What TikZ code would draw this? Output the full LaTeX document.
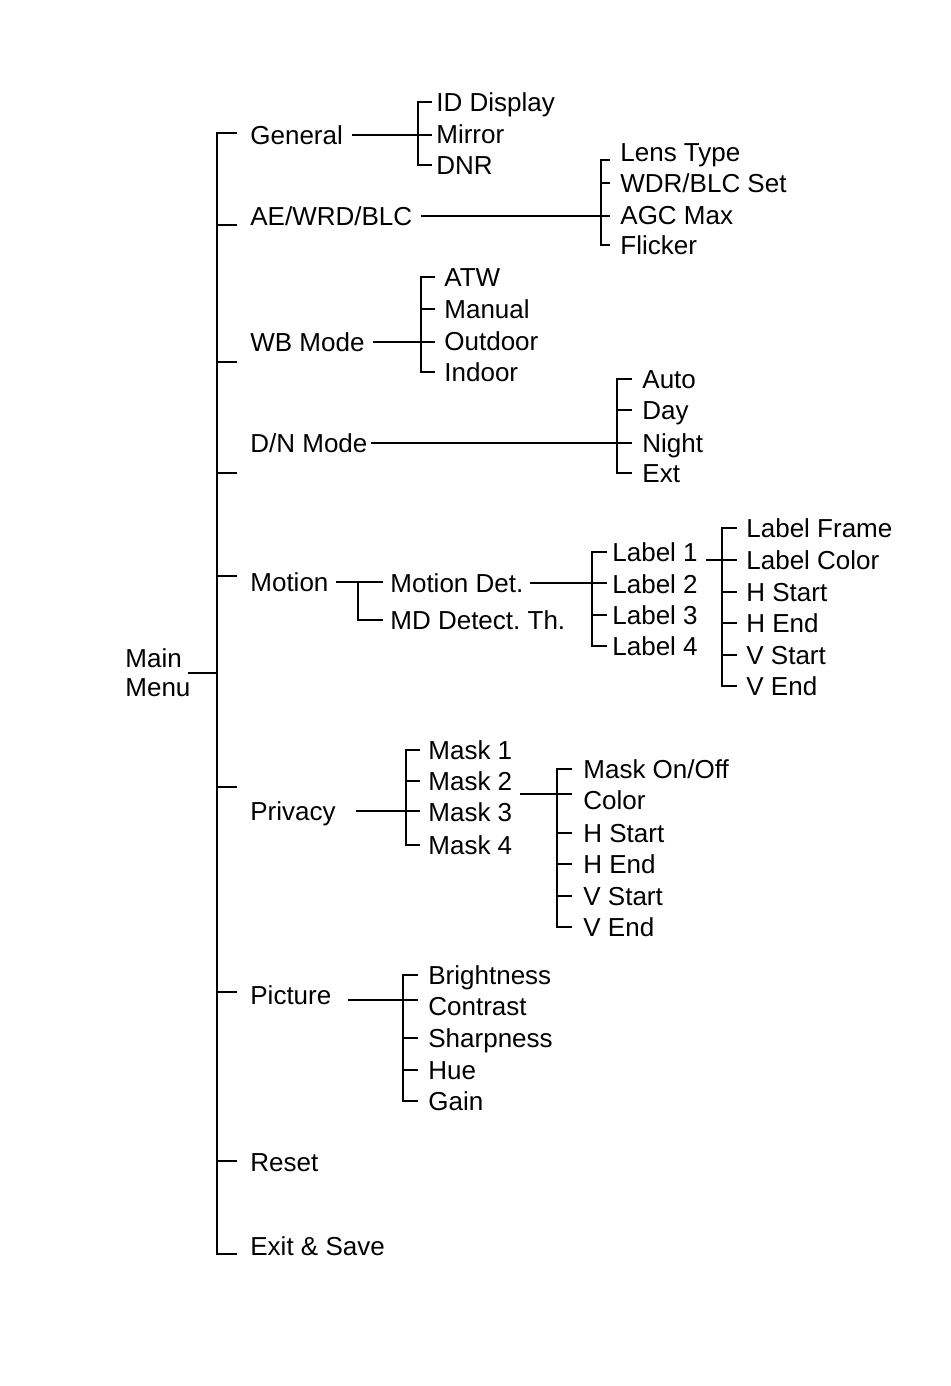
\documentclass[tikz,border=0pt]{standalone}
\usepackage{fontspec}
\setmainfont{Liberation Sans}
\usetikzlibrary{calc}
\frenchspacing

\begin{document}
\begin{tikzpicture}[
    x=0.5pt, y=-0.5pt,
    item/.style={anchor=west, inner sep=0pt, text height=9.3pt, text depth=0pt, font=\fontsize{13}{14.5}\selectfont},
    menu/.style={anchor=west, inner sep=0pt, align=left, font=\fontsize{13}{14.5}\selectfont},
    ln/.style={line width=1pt},
    thinln/.style={line width=0.7pt}
]
    \useasboundingbox (0,0) rectangle (950,1386);

    \node[menu] (mm) at (125,673) {Main\\Menu};
    \node[item] (gen) at (250,135) {General};
    \node[item] (ae) at (250,216) {AE/WRD/BLC};
    \node[item] (wb) at (250,342) {WB Mode};
    \node[item] (dn) at (250,443) {D/N Mode};
    \node[item] (mot) at (250,582) {Motion};
    \node[item] (priv) at (250,811) {Privacy};
    \node[item] (pic) at (250,995) {Picture};
    \node[item] (rst) at (250,1162) {Reset};
    \node[item] (ext) at (250,1246) {Exit \& Save};

    \coordinate (sptop) at (217,133);
    \coordinate (spbot) at (217,1254);
    \draw[ln] (237,133) -| (spbot) -- ++(20,0);
    \foreach \y in {225,362,473,576,787,992,1161}
        \draw[ln] (217,\y) -- ++(20,0);
    \draw[ln] ([xshift=-1.5pt]mm.east) -- (mm.east -| sptop);

    \node[item] (idd) at (436,102) {ID Display};
    \node[item] (mir) at (436,134) {Mirror};
    \node[item] (dnr) at (436,165) {DNR};
    \coordinate (gb) at (418,0);
    \draw[ln] ([xshift=-2pt]idd.west) -| (gb |- dnr.west) -- ([xshift=-2pt]dnr.west);
    \draw[ln, shorten >=2pt] ([xshift=4.5pt]gen.east) -- (gen.east -| mir.west);

    \node[item] (lens) at (620,152) {Lens Type};
    \node[item] (wdr) at (620,183) {WDR/BLC Set};
    \node[item] (agc) at (620,215) {AGC Max};
    \node[item] (flk) at (620,245) {Flicker};
    \coordinate (ab) at (601,0);
    \draw[ln] ([xshift=-5pt,yshift=-4pt]lens.west) -| (ab |- flk.west) -- ([xshift=-5pt]flk.west);
    \draw[ln, shorten >=5pt] (ab |- wdr.west) -- (wdr.west);
    \draw[thinln, shorten >=5pt] ([xshift=4pt]ae.east) -- (ae.east -| agc.west);

    \node[item] (atw) at (444,277) {ATW};
    \node[item] (man) at (444,309) {Manual};
    \node[item] (out) at (444,341) {Outdoor};
    \node[item] (ind) at (444,372) {Indoor};
    \coordinate (wbb) at (421,0);
    \draw[ln] ([xshift=-4.5pt]atw.west) -| (wbb |- ind.west) -- ([xshift=-4.5pt]ind.west);
    \draw[ln, shorten >=4.5pt] (wbb |- man.west) -- (man.west);
    \draw[ln, shorten >=4.5pt] ([xshift=4pt]wb.east) -- (wb.east -| out.west);

    \node[item] (auto) at (642,379) {Auto};
    \node[item] (day) at (642,410) {Day};
    \node[item] (night) at (642,443) {Night};
    \node[item] (extd) at (642,473) {Ext};
    \coordinate (db) at (617,0);
    \draw[ln] ([xshift=-5pt]auto.west) -| (db |- extd.west) -- ([xshift=-5pt]extd.west);
    \draw[ln, shorten >=5pt] (db |- day.west) -- (day.west);
    \draw[ln, shorten >=5pt] ([xshift=1.5pt]dn.east) -- (dn.east -| night.west);

    \node[item] (mdet) at (390,583) {Motion Det.};
    \node[item] (mdth) at (390,620) {MD Detect. Th.};
    \coordinate (mj) at (358,0);
    \draw[ln, shorten >=3.5pt] ([xshift=3.5pt]mot.east) -- (mot.east -| mdet.west);
    \draw[ln, shorten >=3.5pt] (mj |- mot.east) |- (mdth.west);

    \node[item] (lb1) at (612,552) {Label 1};
    \node[item] (lb2) at (612,584) {Label 2};
    \node[item] (lb3) at (612,615) {Label 3};
    \node[item] (lb4) at (612,646) {Label 4};
    \coordinate (lbb) at (592,0);
    \draw[ln] ([xshift=-2.5pt]lb1.west) -| (lbb |- lb4.west) -- ([xshift=-2.5pt]lb4.west);
    \draw[ln, shorten >=2.5pt] (lbb |- lb3.west) -- (lb3.west);
    \draw[ln, shorten >=2.5pt] ([xshift=3pt]mdet.east) -- (mdet.east -| lb2.west);

    \node[item] (lf) at (746,528) {Label Frame};
    \node[item] (lc) at (746,560) {Label Color};
    \node[item] (lhs) at (746,592) {H Start};
    \node[item] (lhe) at (746,623) {H End};
    \node[item] (lvs) at (746,655) {V Start};
    \node[item] (lve) at (746,686) {V End};
    \coordinate (lsb) at (722,0);
    \draw[ln] ([xshift=-4.5pt]lf.west) -| (lsb |- lve.west) -- ([xshift=-4.5pt]lve.west);
    \foreach \n in {lhs,lhe,lvs}
        \draw[ln, shorten >=4.5pt] (lsb |- \n.west) -- (\n.west);
    \coordinate (l1e) at ([xshift=4pt]lb1.east);
    \draw[ln, shorten >=4.5pt] (l1e |- lc.west) -- (lc.west);

    \node[item] (mk1) at (428,750) {Mask 1};
    \node[item] (mk2) at (428,781) {Mask 2};
    \node[item] (mk3) at (428,812) {Mask 3};
    \node[item] (mk4) at (428,845) {Mask 4};
    \coordinate (mb) at (406,0);
    \draw[ln] ([xshift=-4pt]mk1.west) -| (mb |- mk4.west) -- ([xshift=-4pt]mk4.west);
    \draw[ln, shorten >=4pt] (mb |- mk2.west) -- (mk2.west);
    \draw[ln, shorten >=4pt] ([xshift=10pt]priv.east) -- (priv.east -| mk3.west);

    \node[item] (mon) at (583,769) {Mask On/Off};
    \node[item] (col) at (583,800) {Color};
    \node[item] (phs) at (583,833) {H Start};
    \node[item] (phe) at (583,864) {H End};
    \node[item] (pvs) at (583,896) {V Start};
    \node[item] (pve) at (583,927) {V End};
    \coordinate (msb) at (557,0);
    \draw[ln] ([xshift=-5.5pt]mon.west) -| (msb |- pve.west) -- ([xshift=-5.5pt]pve.west);
    \foreach \n in {phs,phe,pvs}
        \draw[ln, shorten >=5.5pt] (msb |- \n.west) -- (\n.west);
    \coordinate (m2e) at ([xshift=3.5pt,yshift=-6.5pt]mk2.east);
    \draw[ln, shorten >=5.5pt] (m2e) -- (m2e -| col.west);

    \node[item] (bri) at (428,975) {Brightness};
    \node[item] (con) at (428,1006) {Contrast};
    \node[item] (shp) at (428,1038) {Sharpness};
    \node[item] (hue) at (428,1070) {Hue};
    \node[item] (gain) at (428,1101) {Gain};
    \coordinate (pb) at (403,0);
    \draw[ln] ([xshift=-5pt]bri.west) -| (pb |- gain.west) -- ([xshift=-5pt]gain.west);
    \foreach \n in {shp,hue}
        \draw[ln, shorten >=5pt] (pb |- \n.west) -- (\n.west);
    \coordinate (pce) at ([xshift=8pt,yshift=-2.5pt]pic.east);
    \draw[ln, shorten >=5pt] (pce) -- (pce -| con.west);
\end{tikzpicture}
\end{document}
